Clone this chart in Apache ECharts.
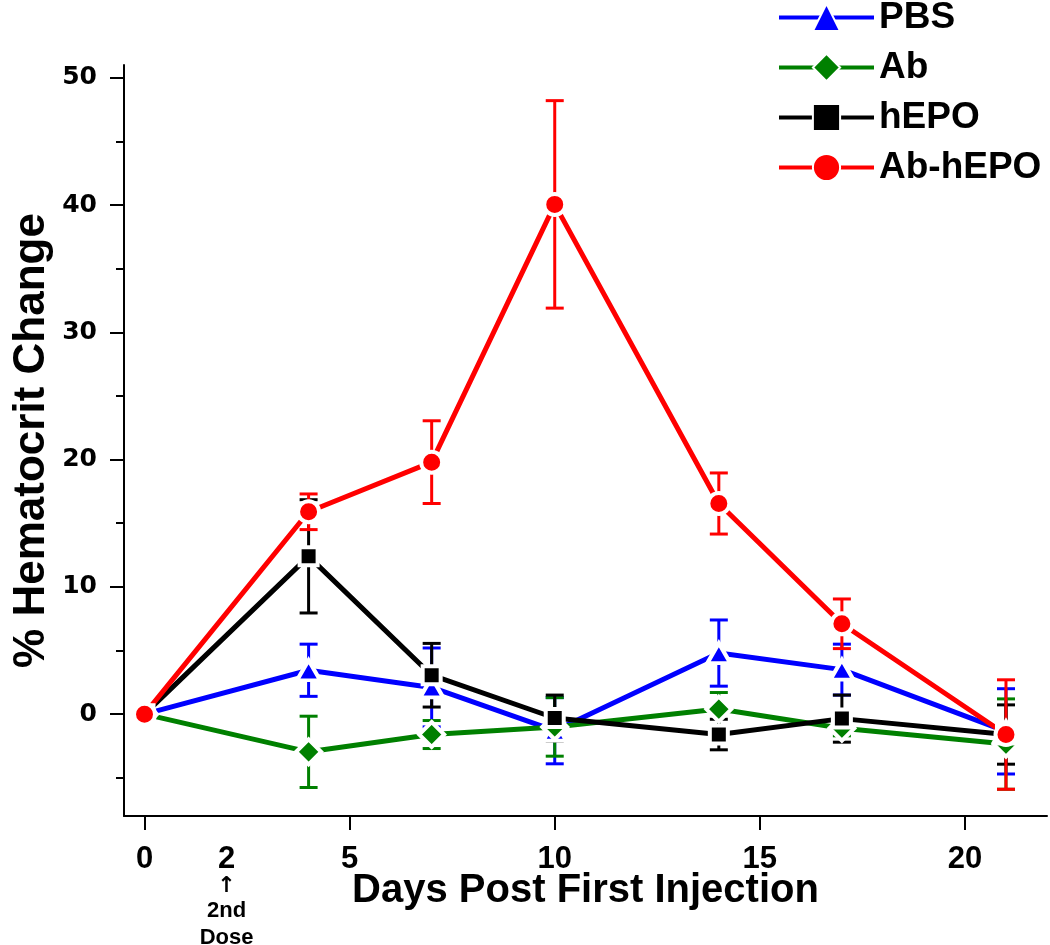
<!DOCTYPE html>
<html>
<head>
<meta charset="utf-8">
<script src="https://cdn.jsdelivr.net/npm/echarts@6/dist/echarts.min.js"></script>
<style>
html,body{margin:0;padding:0;background:#fff;}
#chart{width:1050px;height:945px;}
</style>
</head>
<body>
<div id="chart"></div>
<script>
// ---- data ----
const days = [0, 4, 7, 10, 14, 17, 21];
const seriesNames = ['PBS', 'Ab', 'hEPO', 'Ab-hEPO'];
const pbs = [0, 3.45, 2.1, -1.3, 4.8, 3.5, -1.35];
const pbsErr = [0, 2.05, 3.1, 2.6, 2.6, 2.0, 3.35];
const ab = [0, -2.96, -1.6, -1.0, 0.4, -1.1, -2.35];
const abErr = [0, 2.8, 1.1, 2.3, 1.3, 0.6, 3.55];
const hepo = [0, 12.4, 3.06, -0.3, -1.6, -0.35, -1.6];
const hepoErr = [0, 4.45, 2.5, 1.8, 1.2, 1.85, 2.33];
const abhepo = [0, 15.9, 19.8, 40.05, 16.55, 7.1, -1.6];
const abhepoErr = [0, 1.4, 3.25, 8.15, 2.4, 1.95, 4.3];
const xTickValues = [0, 5, 10, 15, 20];
const xLabelValues = [0, 2, 5, 10, 15, 20];
const yMajorTicks = [0, 10, 20, 30, 40, 50];
const yMinorTicks = [-5, 5, 15, 25, 35, 45];

// ---- styling ----
const colors = ['#0000ff', '#008000', '#000000', '#ff0000'];
const symbols = ['triangle', 'diamond', 'rect', 'circle'];
const symbolSizes = [[23, 20], [25, 25], [18, 18], [21, 21]];
const values = [pbs, ab, hepo, abhepo];
const errors = [pbsErr, abErr, hepoErr, abhepoErr];

const chart = echarts.init(document.getElementById('chart'), null, {renderer: 'canvas'});

const errSeries = values.map((vals, s) => ({
  type: 'custom',
  name: seriesNames[s] + ' err',
  z: 2,
  silent: true,
  data: days.map((d, i) => [d, vals[i], errors[s][i]]),
  renderItem: function (params, api) {
    const x = api.value(0), y = api.value(1), e = api.value(2);
    if (!e) return null;
    const top = api.coord([x, y + e]);
    const bot = api.coord([x, y - e]);
    const hw = 9;
    const st = {stroke: colors[s], lineWidth: 3};
    return {
      type: 'group',
      children: [
        {type: 'line', shape: {x1: top[0], y1: top[1], x2: bot[0], y2: bot[1]}, style: st},
        {type: 'line', shape: {x1: top[0] - hw, y1: top[1], x2: top[0] + hw, y2: top[1]}, style: st},
        {type: 'line', shape: {x1: bot[0] - hw, y1: bot[1], x2: bot[0] + hw, y2: bot[1]}, style: st}
      ]
    };
  }
}));

const lineSeries = values.map((vals, s) => ({
  type: 'line',
  name: seriesNames[s],
  z: 3,
  data: days.map((d, i) => [d, vals[i]]),
  symbol: symbols[s],
  symbolSize: symbolSizes[s],
  showSymbol: true,
  lineStyle: {color: colors[s], width: 5},
  itemStyle: {color: colors[s], borderColor: '#ffffff', borderWidth: 4},
  emphasis: {disabled: true},
  animation: false
}));

const option = {
  animation: false,
  grid: {left: 124, top: 65, right: 3, bottom: 129, containLabel: false, outerBoundsMode: 'none'},
  legend: {
    data: seriesNames,
    orient: 'vertical',
    left: 772,
    top: -6,
    itemWidth: 95,
    itemHeight: 34,
    itemGap: 13,
    lineStyle: {width: 4},
    textStyle: {fontFamily: 'Liberation Sans', fontWeight: 'bold', fontSize: 37, color: '#000', padding: [0, 0, 0, 0]}
  },
  xAxis: {
    type: 'value',
    min: -0.5,
    max: 22,
    axisLine: {show: true, onZero: false, lineStyle: {color: '#000', width: 2}},
    axisTick: {show: true, length: 14, customValues: xTickValues, lineStyle: {color: '#000', width: 2}},
    splitLine: {show: false},
    axisLabel: {
      customValues: xLabelValues,
      margin: 28,
      fontFamily: 'Liberation Sans',
      fontWeight: 'bold',
      fontSize: 31,
      color: '#000',
      lineHeight: 31,
      formatter: function (v) {
        if (v === 2) return '2\n{arr|↑}\n{s|2nd}\n{s|Dose}';
        return String(v);
      },
      rich: {
        arr: {fontFamily: 'DejaVu Sans', fontSize: 22, lineHeight: 22, color: '#000'},
        s: {fontFamily: 'Liberation Sans', fontWeight: 'bold', fontSize: 22, lineHeight: 27, color: '#000'}
      }
    },
    name: 'Days Post First Injection',
    nameLocation: 'middle',
    nameGap: 55,
    nameMoveOverlap: false,
    nameTextStyle: {fontFamily: 'Liberation Sans', fontWeight: 'bold', fontSize: 40, color: '#000', verticalAlign: 'top'}
  },
  yAxis: [
    {
      type: 'value',
      min: -8,
      max: 51,
      axisLine: {show: true, onZero: false, lineStyle: {color: '#000', width: 2}},
      axisTick: {show: true, length: 14, customValues: yMajorTicks, lineStyle: {color: '#000', width: 2}},
      splitLine: {show: false},
      axisLabel: {
        customValues: yMajorTicks,
        margin: 27,
        fontFamily: 'DejaVu Sans',
        fontWeight: 'bold',
        fontSize: 25,
        color: '#000'
      },
      name: '% Hematocrit Change',
      nameLocation: 'middle',
      nameGap: 70,
      nameMoveOverlap: false,
      nameTextStyle: {fontFamily: 'Liberation Sans', fontWeight: 'bold', fontSize: 44, color: '#000'}
    },
    {
      type: 'value',
      min: -8,
      max: 51,
      position: 'left',
      axisLine: {show: false, onZero: false},
      axisTick: {show: true, length: 8, customValues: yMinorTicks, lineStyle: {color: '#000', width: 2}},
      axisLabel: {show: false},
      splitLine: {show: false}
    }
  ],
  series: errSeries.concat(lineSeries)
};

chart.setOption(option);
</script>
</body>
</html>
